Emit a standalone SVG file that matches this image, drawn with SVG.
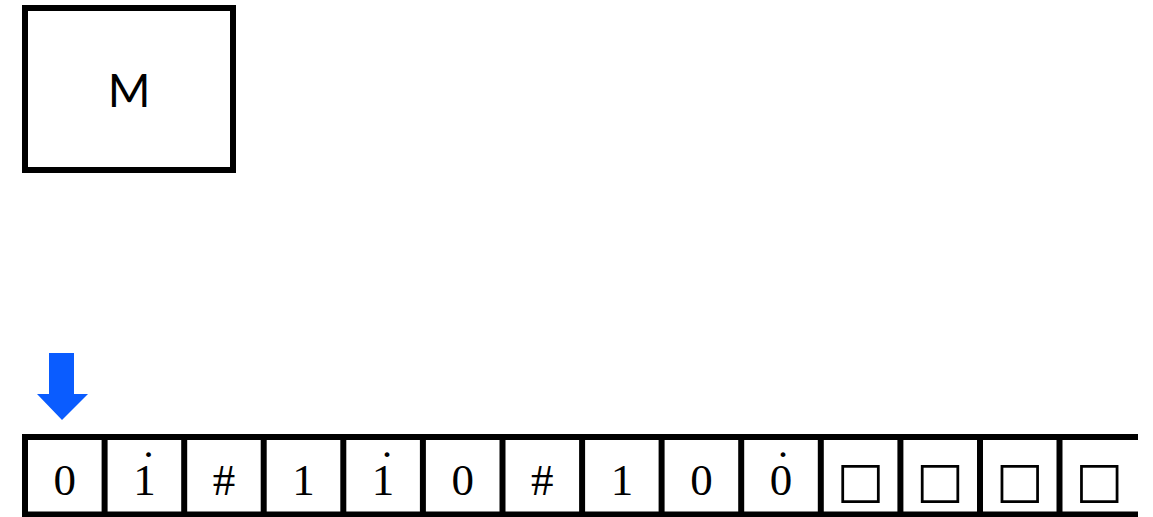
<svg xmlns="http://www.w3.org/2000/svg" width="1153" height="517" viewBox="0 0 1153 517">
<style>
.box{fill:#fff;stroke:#000;stroke-width:6}
.ln{stroke:#000;stroke-width:6;fill:none}
.sym{font-family:"Liberation Serif","DejaVu Serif",serif;font-size:45px;text-anchor:middle;fill:#000}
.blank{font-family:"DejaVu Sans",sans-serif;font-size:50px;text-anchor:middle;fill:#000}
.lbl{font-family:"Lato","Open Sans",sans-serif;font-size:46px;text-anchor:middle;fill:#000}
</style>
<rect width="1153" height="517" fill="#fff"/>
<g id="machine">
<rect class="box" x="25" y="8" width="208" height="162"/>
<text class="lbl" x="129" y="107">M</text>
</g>
<g id="head">
<polygon points="49,353 74,353 74,394 88,394 62,420 37,394 49,394" fill="#0a5cff"/>
</g>
<g id="tape">
<line class="ln" x1="22" y1="437" x2="1138" y2="437"/>
<line class="ln" x1="22" y1="514.5" x2="1138" y2="514.5"/>
<g class="ln">
<line x1="25" y1="434" x2="25" y2="517"/>
<line x1="104.6" y1="434" x2="104.6" y2="517"/>
<line x1="184.2" y1="434" x2="184.2" y2="517"/>
<line x1="263.7" y1="434" x2="263.7" y2="517"/>
<line x1="343.3" y1="434" x2="343.3" y2="517"/>
<line x1="422.9" y1="434" x2="422.9" y2="517"/>
<line x1="502.5" y1="434" x2="502.5" y2="517"/>
<line x1="582.1" y1="434" x2="582.1" y2="517"/>
<line x1="661.6" y1="434" x2="661.6" y2="517"/>
<line x1="741.2" y1="434" x2="741.2" y2="517"/>
<line x1="820.8" y1="434" x2="820.8" y2="517"/>
<line x1="900.4" y1="434" x2="900.4" y2="517"/>
<line x1="980" y1="434" x2="980" y2="517"/>
<line x1="1059.5" y1="434" x2="1059.5" y2="517"/>
</g>
<text class="sym" x="64.8" y="495">0</text>
<text class="sym" x="144.4" y="495">1<tspan x="148.4" y="482">̇</tspan></text>
<text class="sym" x="224" y="495">#</text>
<text class="sym" x="303.5" y="495">1</text>
<text class="sym" x="383.1" y="495">1<tspan x="387.1" y="482">̇</tspan></text>
<text class="sym" x="462.7" y="495">0</text>
<text class="sym" x="542.3" y="495">#</text>
<text class="sym" x="621.9" y="495">1</text>
<text class="sym" x="701.4" y="495">0</text>
<text class="sym" x="781" y="495">0<tspan x="783" y="482">̇</tspan></text>
<text class="blank" x="860.6" y="497">□</text>
<text class="blank" x="940.2" y="497">□</text>
<text class="blank" x="1019.8" y="497">□</text>
<text class="blank" x="1099.3" y="497">□</text>
</g>
</svg>
